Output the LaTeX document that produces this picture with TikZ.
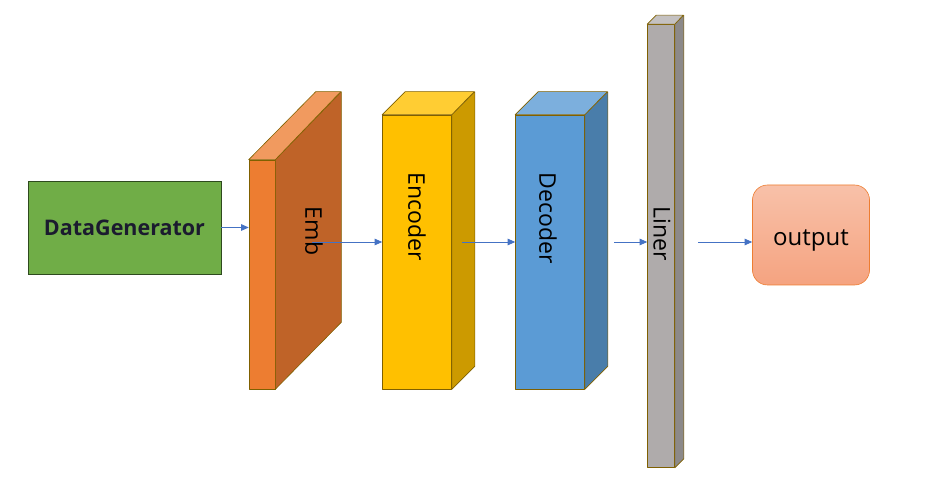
\documentclass[tikz,border=0pt]{standalone}
\usepackage{fontspec}
\setmainfont{Open Sans}
\usetikzlibrary{arrows.meta,calc}
\definecolor{brd}{HTML}{7F6000}
\definecolor{arrowblue}{HTML}{4472C4}
\definecolor{gfill}{HTML}{70AD47}
\definecolor{gbrd}{HTML}{2E4A1E}
\definecolor{dgtext}{HTML}{1B1B2F}
\definecolor{oFront}{HTML}{ED7D31}
\definecolor{oSide}{HTML}{BF6328}
\definecolor{oTop}{HTML}{F19A5F}
\definecolor{yFront}{HTML}{FFC000}
\definecolor{ySide}{HTML}{CC9A00}
\definecolor{yTop}{HTML}{FFCD33}
\definecolor{bFront}{HTML}{5B9BD5}
\definecolor{bSide}{HTML}{497DAA}
\definecolor{bTop}{HTML}{7CAFDD}
\definecolor{gFront}{HTML}{AFABAB}
\definecolor{gSide}{HTML}{8C8989}
\definecolor{gTop}{HTML}{C4C1C1}
\definecolor{outTop}{HTML}{F8C1A9}
\definecolor{outBot}{HTML}{F5A380}
\definecolor{outBrd}{HTML}{ED7D31}
\tikzset{
  face/.style={draw=brd, line width=0.6pt, line join=round},
  frontface/.style={face, rectangle, inner sep=0pt, minimum width=#1},
  arr/.style={draw=arrowblue, line width=0.8pt, -{Triangle[length=7.5pt,width=6.5pt]}},
  lbl/.style={rotate=-90, font=\fontsize{23}{25}\selectfont, text=black, inner sep=0pt},
}
\begin{document}
\begin{tikzpicture}[x=1pt,y=-1pt]
\useasboundingbox (0,0) rectangle (930,481);
% DataGenerator
\node[draw=gbrd, line width=0.8pt, fill=gfill, minimum width=193pt, minimum height=93pt, inner sep=0pt,
  font=\fontsize{21.5}{23}\selectfont\bfseries, text=dgtext] (dg) at (124.5,227.5) {\raisebox{-3pt}[16pt][6pt]{DataGenerator}};
% Emb cuboid
\node[frontface=26pt, fill=oFront, minimum height=229pt] (emb) at (262,274.5) {};
\fill[face, fill=oSide] (emb.north east) -- ++(66,-68) -- ($(emb.south east)+(66,-67)$) -- (emb.south east) -- cycle;
\fill[face, fill=oTop] (emb.north west) -- ++(67,-68) -- ++(25,0) -- (emb.north east) -- cycle;
\node[lbl] (embl) at (314,231) {Emb};
% Encoder cuboid
\node[frontface=69pt, fill=yFront, minimum height=274pt] (enc) at (417,252) {};
\fill[face, fill=ySide] (enc.north east) -- ++(23,-23) -- ($(enc.south east)+(23,-23)$) -- (enc.south east) -- cycle;
\fill[face, fill=yTop] (enc.north west) -- ++(23,-23) -- ++(69,0) -- (enc.north east) -- cycle;
\node[lbl] (encl) at (417,217) {Encoder};
% Decoder cuboid
\node[frontface=69pt, fill=bFront, minimum height=274pt] (dec) at (550,252) {};
\fill[face, fill=bSide] (dec.north east) -- ++(23,-23) -- ($(dec.south east)+(23,-23)$) -- (dec.south east) -- cycle;
\fill[face, fill=bTop] (dec.north west) -- ++(23,-23) -- ++(69,0) -- (dec.north east) -- cycle;
\node[lbl] (decl) at (548,218) {Decoder};
% Liner cuboid
\node[frontface=27pt, fill=gFront, minimum height=443pt] (lin) at (661,246) {};
\fill[face, fill=gSide] (lin.north east) -- ++(9,-9) -- ($(lin.south east)+(9,-9)$) -- (lin.south east) -- cycle;
\fill[face, fill=gTop] (lin.north west) -- ++(9,-9) -- ++(27,0) -- (lin.north east) -- cycle;
\node[lbl] (linl) at (662,234) {Liner};
% output
\node[draw=outBrd, line width=0.6pt, rounded corners=15pt, top color=outTop, bottom color=outBot,
  minimum width=117pt, minimum height=100pt, inner sep=0pt, font=\fontsize{24}{26}\selectfont] (out) at (811,235) {\raisebox{-5pt}[18pt][6pt]{output}};
% connectors
\coordinate (embout) at (312,242);
\coordinate (encout) at (462,242);
\coordinate (decout) at (614,242);
\coordinate (linout) at (698,242);
\draw[arr] (dg.east) -- (dg.east -| emb.west);
\draw[arr] (embout) -- (embout -| enc.west);
\draw[arr] (encout) -- (encout -| dec.west);
\draw[arr] (decout) -- (decout -| lin.west);
\draw[arr] (linout) -- (linout -| out.west);
\end{tikzpicture}
\end{document}
